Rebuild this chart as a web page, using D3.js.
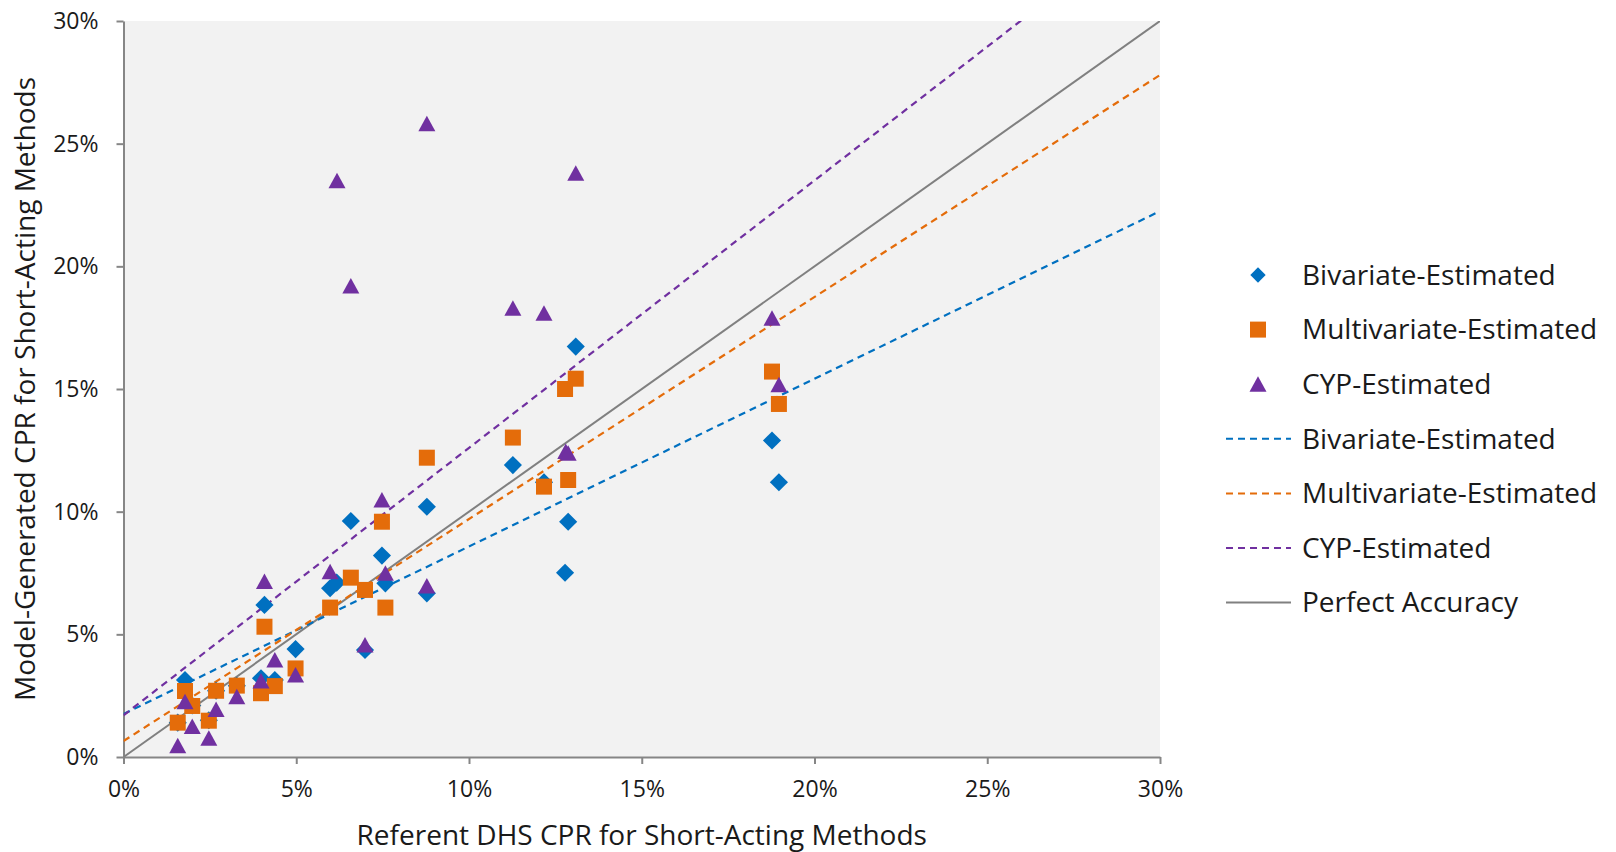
<!DOCTYPE html>
<meta charset="utf-8">
<script src="https://d3js.org/d3.v7.min.js"></script>
<style>
  body { margin: 0; background: #fff; }
  text { font-family: "Open Sans", sans-serif; fill: #1a1a1a; }
</style>
<svg id="chart" width="1616" height="852"></svg>
<script>

// values in percent
var bivX = [1.57, 1.78, 1.99, 2.47, 2.68, 3.28, 3.98, 4.08, 4.38, 4.98, 5.98, 6.17, 6.58, 6.99, 7.48, 7.58, 8.78, 8.78, 11.27, 12.17, 12.78, 12.87, 13.09, 18.77, 18.97];
var bivY = [1.40, 3.14, 2.10, 1.50, 2.70, 2.90, 3.21, 6.20, 3.14, 4.40, 6.88, 7.11, 9.62, 4.36, 8.21, 7.08, 10.20, 6.67, 11.90, 11.20, 7.51, 9.59, 16.73, 12.90, 11.20];

var mulX = [1.57, 1.78, 1.99, 2.47, 2.68, 3.28, 3.98, 4.08, 4.38, 4.98, 5.98, 6.58, 6.99, 7.48, 7.58, 8.78, 11.27, 12.17, 12.78, 12.87, 13.09, 18.77, 18.97];
var mulY = [1.40, 2.69, 2.08, 1.48, 2.70, 2.91, 2.60, 5.31, 2.89, 3.61, 6.09, 7.31, 6.81, 9.59, 6.09, 12.20, 13.02, 11.02, 15.00, 11.29, 15.42, 15.71, 14.39];

var cypX = [1.57, 1.78, 1.99, 2.47, 2.68, 3.28, 3.98, 4.08, 4.38, 4.98, 5.98, 6.18, 6.58, 6.99, 7.48, 7.58, 8.78, 8.78, 11.27, 12.17, 12.80, 12.87, 13.09, 18.77, 18.97];
var cypY = [0.46, 2.25, 1.24, 0.76, 1.94, 2.46, 3.10, 7.15, 3.95, 3.34, 7.55, 23.49, 19.20, 4.57, 10.48, 7.49, 25.81, 6.97, 18.29, 18.09, 12.45, 12.38, 23.79, 17.88, 15.17];

// trend lines: [x, y] at both ends, and the 1:1 line
var bivTrend = [[0, 1.75], [30, 22.25]];
var mulTrend = [[0, 0.65], [30, 27.80]];
var cypTrend = [[0, 1.70], [30, 34.40]];
var perfect = [[0, 0], [30, 30]];

var ticks = [0, 5, 10, 15, 20, 25, 30];

var blue = "#0070C0", orange = "#E46C0A", purple = "#7030A0", gray = "#808080";

var svg = d3.select("#chart");
var plotLeft = 123.5, plotRight = 1160, plotTop = 21, plotBottom = 757;

var x = d3.scaleLinear().domain([0, 30]).range([plotLeft, plotRight]);
var y = d3.scaleLinear().domain([0, 30]).range([plotBottom, plotTop]);

svg.append("rect")
  .attr("x", plotLeft).attr("y", plotTop)
  .attr("width", plotRight - plotLeft).attr("height", plotBottom - plotTop)
  .attr("fill", "#f2f2f2");

svg.append("clipPath").attr("id", "plotclip")
  .append("rect")
  .attr("x", plotLeft).attr("y", plotTop)
  .attr("width", plotRight - plotLeft).attr("height", plotBottom - plotTop);

// axes
var xAxis = svg.append("g")
  .attr("transform", "translate(0," + plotBottom + ")")
  .call(d3.axisBottom(x).tickValues(ticks).tickSize(7).tickSizeOuter(0).tickFormat(function(d) { return d + "%"; }));
var yAxis = svg.append("g")
  .attr("transform", "translate(" + plotLeft + ",0)")
  .call(d3.axisLeft(y).tickValues(ticks).tickSize(7).tickSizeOuter(0).tickFormat(function(d) { return d + "%"; }));

[xAxis, yAxis].forEach(function(a) {
  a.select(".domain").attr("stroke", "#868686").attr("stroke-width", 2);
  a.selectAll(".tick line").attr("stroke", "#868686").attr("stroke-width", 2);
  a.selectAll(".tick text")
    .style("font-family", "'Open Sans', sans-serif")
    .style("font-size", "23px")
    .attr("fill", "#1a1a1a");
});
xAxis.selectAll(".tick text").attr("y", 24);
yAxis.selectAll(".tick text").attr("x", -25);

// trend + accuracy lines
var line = d3.line().x(function(d) { return x(d[0]); }).y(function(d) { return y(d[1]); });
var plot = svg.append("g").attr("clip-path", "url(#plotclip)");

plot.append("path").attr("d", line(perfect))
  .attr("stroke", gray).attr("stroke-width", 2).attr("fill", "none");

[[bivTrend, blue], [mulTrend, orange], [cypTrend, purple]].forEach(function(t) {
  plot.append("path").attr("d", line(t[0]))
    .attr("stroke", t[1]).attr("stroke-width", 2.2)
    .attr("stroke-dasharray", "7,5").attr("fill", "none");
});

// markers
var diamond = d3.symbol().type(d3.symbolDiamond2).size(210);
var square = d3.symbol().type(d3.symbolSquare).size(256);
var triangle = "M0,-8L8.5,7.5L-8.5,7.5Z";

svg.append("g").selectAll("path")
  .data(d3.zip(bivX, bivY))
  .enter().append("path")
    .attr("d", diamond)
    .attr("transform", function(d) { return "translate(" + x(d[0]) + "," + y(d[1]) + ")"; })
    .attr("fill", blue);

svg.append("g").selectAll("path")
  .data(d3.zip(mulX, mulY))
  .enter().append("path")
    .attr("d", square)
    .attr("transform", function(d) { return "translate(" + x(d[0]) + "," + y(d[1]) + ")"; })
    .attr("fill", orange);

svg.append("g").selectAll("path")
  .data(d3.zip(cypX, cypY))
  .enter().append("path")
    .attr("d", triangle)
    .attr("transform", function(d) { return "translate(" + x(d[0]) + "," + y(d[1]) + ")"; })
    .attr("fill", purple);

// axis titles
svg.append("text")
  .attr("x", (plotLeft + plotRight) / 2).attr("y", 845)
  .attr("text-anchor", "middle")
  .style("font-size", "28px")
  .text("Referent DHS CPR for Short-Acting Methods");

svg.append("text")
  .attr("transform", "translate(35," + ((plotTop + plotBottom) / 2) + ") rotate(-90)")
  .attr("text-anchor", "middle")
  .style("font-size", "28px")
  .text("Model-Generated CPR for Short-Acting Methods");

// legend
var legendItems = [
  { label: "Bivariate-Estimated", kind: "diamond", color: blue },
  { label: "Multivariate-Estimated", kind: "square", color: orange },
  { label: "CYP-Estimated", kind: "triangle", color: purple },
  { label: "Bivariate-Estimated", kind: "dash", color: blue },
  { label: "Multivariate-Estimated", kind: "dash", color: orange },
  { label: "CYP-Estimated", kind: "dash", color: purple },
  { label: "Perfect Accuracy", kind: "solid", color: gray }
];

var legend = svg.append("g");
var rows = legend.selectAll("g")
  .data(legendItems)
  .enter().append("g")
    .attr("transform", function(d, i) { return "translate(0," + (275 + i * 54.6) + ")"; });

rows.each(function(d) {
  var g = d3.select(this);
  if (d.kind == "diamond") {
    g.append("path").attr("d", d3.symbol().type(d3.symbolDiamond2).size(150)).attr("transform", "translate(1258,0)").attr("fill", d.color);
  } else if (d.kind == "square") {
    g.append("path").attr("d", d3.symbol().type(d3.symbolSquare).size(256)).attr("transform", "translate(1258,0)").attr("fill", d.color);
  } else if (d.kind == "triangle") {
    g.append("path").attr("d", triangle).attr("transform", "translate(1258,0)").attr("fill", d.color);
  } else {
    g.append("line").attr("x1", 1226).attr("x2", 1291).attr("y1", 0).attr("y2", 0)
      .attr("stroke", d.color).attr("stroke-width", 2)
      .attr("stroke-dasharray", d.kind == "dash" ? "7,5" : null);
  }
  g.append("text")
    .attr("x", 1302).attr("y", 0).attr("dy", "0.35em")
    .style("font-size", "28px")
    .text(d.label);
});

</script>
